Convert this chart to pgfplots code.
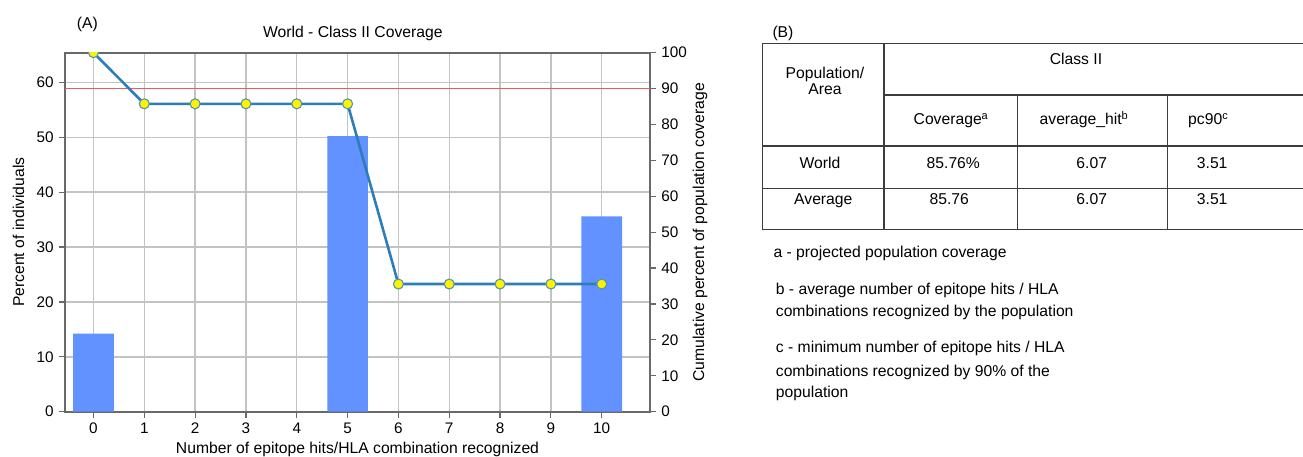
\documentclass[border=0pt]{standalone}
\usepackage{pgfplots}
\pgfplotsset{compat=1.18}
\usepackage{fontspec}
\setmainfont{Liberation Sans}
\definecolor{barc}{RGB}{98,146,255}
\definecolor{linec}{RGB}{45,125,185}
\definecolor{markc}{RGB}{80,150,175}
\definecolor{redc}{RGB}{240,90,90}
\definecolor{gridc}{RGB}{195,195,195}
\definecolor{axc}{RGB}{105,105,105}
\definecolor{tabc}{RGB}{60,60,60}
\newcommand\fs{\fontsize{15.7}{18.8}\selectfont}
\newcommand\ft{\fontsize{15.3}{18}\selectfont}
\begin{document}
\fs
\begin{tikzpicture}[x=1pt,y=1pt]
\useasboundingbox (0,0) rectangle (1303,457);
\begin{axis}[
  at={(65pt,45.3pt)}, anchor=south west, scale only axis,
  width=585pt, height=359pt,
  xmin=-0.56, xmax=10.95, ymin=0, ymax=65.4,
  xtick={0,1,...,10}, ytick={0,10,...,60},
  grid=major, major grid style={gridc, line width=1.4pt},
  axis line style={axc, line width=1.8pt},
  tick style={axc, line width=1.2pt}, tick align=outside, major tick length=6pt,
  xtick pos=bottom, ytick pos=left,
  ticklabel style={font=\ft}, /pgf/number format/assume math mode=true,
  xlabel={Number of epitope hits/HLA combination recognized},
  ylabel={Percent of individuals},
  title={World - Class II Coverage},
  xlabel style={at={(axis description cs:0.5,-0.105)}, anchor=center, font=\fs},
  ylabel style={at={(axis description cs:-0.0795,0.5)}, anchor=center, rotate=0, font=\fs},
  title style={at={(axis description cs:0.492,1.037)}, anchor=center, font=\fs},
]
\addplot[ybar, bar width=0.8, fill=barc, draw=none] coordinates {(0,14.24) (5,50.2) (10,35.56)};
\end{axis}
\begin{axis}[
  at={(65pt,45.3pt)}, anchor=south west, scale only axis,
  width=585pt, height=359pt,
  xmin=-0.56, xmax=10.95, ymin=0, ymax=100,
  axis x line=none, axis y line*=right, ytick={0,10,...,100},
  axis line style={axc, line width=1.8pt},
  tick style={axc, line width=1.2pt}, tick align=outside, major tick length=6pt,
  ticklabel style={font=\ft}, /pgf/number format/assume math mode=true,
  ylabel={Cumulative percent of population coverage},
  ylabel style={at={(axis description cs:1.0855,0.5)}, anchor=center, rotate=0, font=\fs},
  clip marker paths=true,
]
\addplot[redc, line width=1.5pt, no marks] coordinates {(-0.56,90) (10.95,90)};
\addplot[linec, line width=2.6pt, mark=*, mark size=5pt,
  mark options={fill=yellow, draw=markc, line width=1.1pt}]
  coordinates {(0,100) (1,85.76) (2,85.76) (3,85.76) (4,85.76) (5,85.76)
               (6,35.56) (7,35.56) (8,35.56) (9,35.56) (10,35.56)};
\end{axis}
\node[anchor=base west, inner sep=0pt] at (76.7,428.5) {(A)};
\node[anchor=base west, inner sep=0pt] at (772.3,419.5) {(B)};
\begin{scope}[tabc, line width=1.4pt]
\draw (762.3,413.7) -- (1303,413.7);
\draw (884,362) -- (1303,362);
\draw (762.3,311) -- (1303,311);
\draw (762.3,268.7) -- (1303,268.7);
\draw (762.3,227.7) -- (1303,227.7);
\draw (762.3,413.7) -- (762.3,227.7);
\draw (884,413.7) -- (884,227.7);
\draw (1017.7,362) -- (1017.7,227.7);
\draw (1167.7,362) -- (1167.7,227.7);
\end{scope}
\begin{scope}[every node/.style={inner sep=0pt}]
\node[anchor=base] at (1076,392) {Class II};
\node[anchor=base] at (825,378) {Population/};
\node[anchor=base] at (825,362.5) {Area};
\node[anchor=base] at (951,332) {Coverage\textsuperscript{a}};
\node[anchor=base] at (1084,332) {average\_hit\textsuperscript{b}};
\node[anchor=base west] at (1188,332) {pc90\textsuperscript{c}};
\node[anchor=base] at (820,288.7) {World};
\node[anchor=base] at (953.3,288.7) {85.76\%};
\node[anchor=base] at (1091.7,288.7) {6.07};
\node[anchor=base west] at (1196.7,288.7) {3.51};
\node[anchor=base] at (823.3,252.5) {Average};
\node[anchor=base] at (949.3,252.5) {85.76};
\node[anchor=base] at (1091.7,252.5) {6.07};
\node[anchor=base west] at (1196.7,252.5) {3.51};
\node[anchor=base west] at (773.3,199) {a - projected population coverage};
\node[anchor=base west] at (775.7,162.4) {b - average number of epitope hits / HLA};
\node[anchor=base west] at (775.7,140.7) {combinations recognized by the population};
\node[anchor=base west] at (775.7,104) {c - minimum number of epitope hits / HLA};
\node[anchor=base west] at (775.7,80.7) {combinations recognized by 90\% of the};
\node[anchor=base west] at (775.7,59) {population};
\end{scope}
\end{tikzpicture}
\end{document}
